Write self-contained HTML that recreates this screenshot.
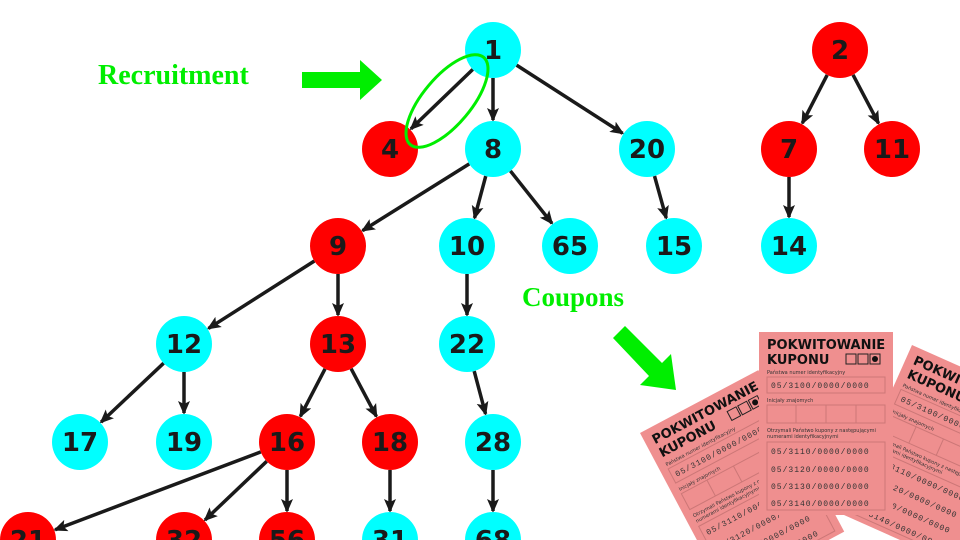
<!DOCTYPE html>
<html><head><meta charset="utf-8"><style>
html,body{margin:0;padding:0;background:#fff;width:960px;height:540px;overflow:hidden}
svg{display:block;overflow:hidden}
.n{font-family:"DejaVu Sans","Liberation Sans",sans-serif;font-weight:bold;font-size:26px;fill:#1a1a1a;text-anchor:middle;dominant-baseline:central}
.lbl{font-family:"Liberation Serif",serif;font-weight:bold;fill:#00ee00}
.ct{font-family:"DejaVu Sans","Liberation Sans",sans-serif;font-weight:bold;fill:#111}
.cs{font-family:"DejaVu Sans","Liberation Sans",sans-serif;font-size:5px;fill:#333}
.cm{font-family:"Liberation Mono",monospace;font-size:8px;fill:#333;letter-spacing:1px}
</style></head><body>
<svg id="s" width="960" height="540" viewBox="0 0 960 540" xmlns="http://www.w3.org/2000/svg">
<defs>
<marker id="ah" markerWidth="14" markerHeight="14" refX="12" refY="7" orient="auto" markerUnits="userSpaceOnUse">
<path d="M0,1 L14,7 L0,13 L3,7 Z" fill="#1a1a1a"/></marker>
<g id="card">
<rect x="0" y="0" width="134" height="183" fill="#ef8f8f"/>
<text class="ct" x="8" y="17" font-size="13">POKWITOWANIE</text>
<text class="ct" x="8" y="32" font-size="13">KUPONU</text>
<rect x="87" y="22" width="10" height="10" fill="none" stroke="#222"/>
<rect x="99" y="22" width="10" height="10" fill="none" stroke="#222"/>
<rect x="111" y="22" width="10" height="10" fill="none" stroke="#222"/>
<circle cx="116" cy="27" r="3" fill="#111"/>
<text class="cs" x="8" y="42">Państwa numer identyfikacyjny</text>
<rect x="8" y="45" width="118" height="16" fill="none" stroke="#c77"/>
<text class="cm" x="12" y="56">05/3100/0000/0000</text>
<text class="cs" x="8" y="70">Inicjały znajomych</text>
<rect x="8" y="73" width="118" height="18" fill="none" stroke="#c77"/>
<line x1="37" y1="73" x2="37" y2="91" stroke="#c77"/><line x1="67" y1="73" x2="67" y2="91" stroke="#c77"/><line x1="97" y1="73" x2="97" y2="91" stroke="#c77"/>
<text class="cs" x="8" y="100">Otrzymali Państwo kupony z następującymi</text>
<text class="cs" x="8" y="106">numerami identyfikacyjnymi</text>
<rect x="8" y="110" width="118" height="68" fill="none" stroke="#c77"/>
<text class="cm" x="12" y="122">05/3110/0000/0000</text>
<text class="cm" x="12" y="140">05/3120/0000/0000</text>
<text class="cm" x="12" y="157">05/3130/0000/0000</text>
<text class="cm" x="12" y="174">05/3140/0000/0000</text>
</g>
</defs>
<g id="edges" stroke="#1a1a1a" stroke-width="3.5" fill="none"></g>
<g id="nodes"></g>
<use href="#card" transform="translate(640,433) rotate(-28)"/>
<use href="#card" transform="translate(912,345) rotate(24)"/>
<use href="#card" transform="translate(759,332)"/>
<text class="lbl" x="98" y="84" font-size="28">Recruitment</text>
<text class="lbl" x="522" y="306" font-size="27">Coupons</text>
<polygon points="302,72 360,72 360,60 382,80 360,100 360,88 302,88" fill="#00ee00"/>
<polygon points="613,338 625,326 662,363 671,354 676,390 640,385 649,376" fill="#00ee00"/>
<ellipse cx="447" cy="101" rx="57" ry="24" transform="rotate(-50 447 101)" fill="none" stroke="#00ee00" stroke-width="3"/>
</svg>
<script>
var N={1:[493,50,'c'],4:[390,149,'r'],8:[493,149,'c'],20:[647,149,'c'],2:[840,50,'r'],7:[789,149,'r'],11:[892,149,'r'],14:[789,246,'c'],
9:[338,246,'r'],10:[467,246,'c'],65:[570,246,'c'],15:[674,246,'c'],12:[184,344,'c'],13:[338,344,'r'],22:[467,344,'c'],
17:[80,442,'c'],19:[184,442,'c'],16:[287,442,'r'],18:[390,442,'r'],28:[493,442,'c'],
21:[28,540,'r'],32:[184,540,'r'],56:[287,540,'r'],31:[390,540,'c'],68:[493,540,'c']};
var E=[[1,4],[1,8],[1,20],[2,7],[2,11],[7,14],[8,9],[8,10],[8,65],[20,15],[9,12],[9,13],[10,22],[12,17],[12,19],[13,16],[13,18],[22,28],[16,21],[16,32],[16,56],[18,31],[28,68]];
var ns="http://www.w3.org/2000/svg",R=28,eg=document.getElementById('edges'),ng=document.getElementById('nodes');
E.forEach(function(e){var a=N[e[0]],b=N[e[1]],dx=b[0]-a[0],dy=b[1]-a[1],d=Math.hypot(dx,dy),ux=dx/d,uy=dy/d;
var l=document.createElementNS(ns,'line');l.setAttribute('x1',a[0]+ux*R);l.setAttribute('y1',a[1]+uy*R);
l.setAttribute('x2',b[0]-ux*(R+1));l.setAttribute('y2',b[1]-uy*(R+1));l.setAttribute('marker-end','url(#ah)');eg.appendChild(l);});
for(var k in N){var v=N[k];var c=document.createElementNS(ns,'circle');c.setAttribute('cx',v[0]);c.setAttribute('cy',v[1]);c.setAttribute('r',R);
c.setAttribute('fill',v[2]=='c'?'#00ffff':'#ff0000');ng.appendChild(c);
var t=document.createElementNS(ns,'text');t.setAttribute('class','n');t.setAttribute('x',v[0]);t.setAttribute('y',v[1]+1);t.textContent=k;ng.appendChild(t);}
</script>
</body></html>
